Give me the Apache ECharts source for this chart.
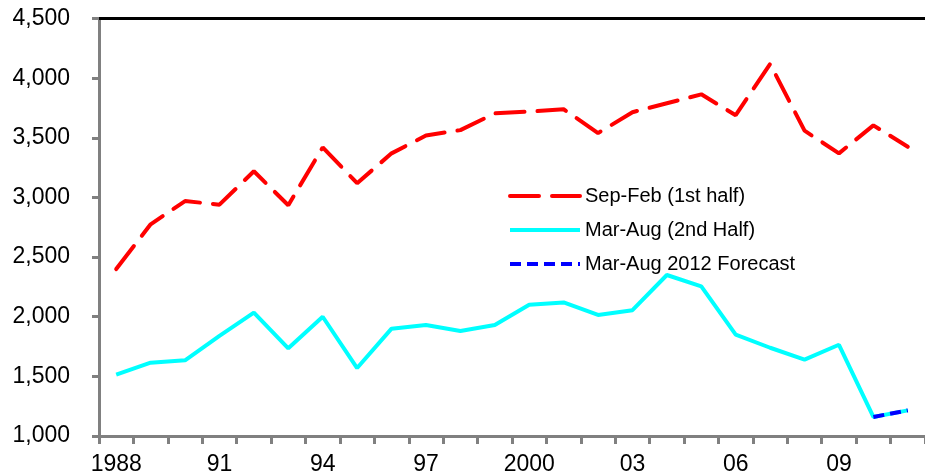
<!DOCTYPE html>
<html>
<head>
<meta charset="utf-8">
<script src="https://cdn.jsdelivr.net/npm/echarts@6/dist/echarts.min.js"></script>
<style>
  html, body { margin: 0; padding: 0; background: #fff; }
  #chart { width: 925px; height: 476px; }
</style>
</head>
<body>
<div id="chart"></div>
<script>
// Season years (Excel-style short labels after the first and at 2000)
const years = ['1988', '89', '90', '91', '92', '93', '94', '95', '96', '97', '98', '99',
               '2000', '01', '02', '03', '04', '05', '06', '07', '08', '09', '10', '11'];

// Sep-Feb (1st half)
const firstHalf = [2400, 2775, 2970, 2940, 3220, 2935, 3420, 3120, 3370, 3520, 3565, 3705,
                   3720, 3740, 3540, 3715, 3790, 3865, 3690, 4120, 3560, 3370, 3605, 3425];

// Mar-Aug (2nd Half)
const secondHalf = [1515, 1615, 1635, 1840, 2035, 1735, 2000, 1570, 1900, 1930, 1880, 1930,
                    2100, 2120, 2015, 2055, 2350, 2255, 1850, 1740, 1640, 1765, 1160, 1215];

// Mar-Aug 2012 forecast segment
const forecast = [null, null, null, null, null, null, null, null, null, null, null, null,
                  null, null, null, null, null, null, null, null, null, null, 1160, 1215];

const seriesNames = ['Sep-Feb (1st half)', 'Mar-Aug (2nd Half)', 'Mar-Aug 2012 Forecast'];

const FONT = "'Liberation Sans', Arial, sans-serif";

const chart = echarts.init(document.getElementById('chart'), null, { renderer: 'canvas' });

chart.setOption({
  animation: false,
  backgroundColor: '#ffffff',
  textStyle: { fontFamily: FONT, color: '#000' },
  grid: { left: 99, top: 18.6, width: 828, bottom: 39.3, containLabel: false },
  legend: {
    data: seriesNames,
    orient: 'vertical',
    left: 508,
    top: 186,
    padding: 0,
    itemWidth: 70,
    itemHeight: 20,
    itemGap: 14,
    // line-only legend keys: hide the marker, keep the series stroke
    itemStyle: { opacity: 0 },
    lineStyle: { width: 4 },
    textStyle: { fontSize: 20, color: '#000', fontFamily: FONT }
  },
  xAxis: [
    {
      type: 'category',
      data: years,
      boundaryGap: true,
      axisLine: { lineStyle: { color: '#808080', width: 3 } },
      axisTick: { show: true, interval: 0, length: 8, lineStyle: { color: '#808080', width: 3 } },
      axisLabel: { interval: 2, margin: 17, fontSize: 23, color: '#000', fontFamily: FONT },
      splitLine: { show: false }
    },
    {
      type: 'category',
      data: years,
      position: 'top',
      axisLine: { lineStyle: { color: '#000', width: 3 } },
      axisTick: { show: false },
      axisLabel: { show: false },
      splitLine: { show: false }
    }
  ],
  yAxis: {
    type: 'value',
    min: 1000,
    max: 4500,
    interval: 500,
    axisLine: { show: true, lineStyle: { color: '#808080', width: 3 } },
    axisTick: { show: true, length: 7, lineStyle: { color: '#808080', width: 3 } },
    axisLabel: {
      margin: 29,
      fontSize: 23,
      color: '#000',
      fontFamily: FONT,
      formatter: v => v.toLocaleString('en-US')
    },
    splitLine: { show: false }
  },
  series: [
    {
      name: seriesNames[0],
      type: 'line',
      data: firstHalf,
      symbol: 'none',
      lineStyle: { color: '#ff0000', width: 4, type: [29, 13], cap: 'round' },
      itemStyle: { color: '#ff0000' }
    },
    {
      name: seriesNames[1],
      type: 'line',
      data: secondHalf,
      symbol: 'none',
      lineStyle: { color: '#00ffff', width: 4 },
      itemStyle: { color: '#00ffff' }
    },
    {
      name: seriesNames[2],
      type: 'line',
      data: forecast,
      symbol: 'none',
      connectNulls: false,
      lineStyle: { color: '#0000ff', width: 4, type: [11, 6] },
      itemStyle: { color: '#0000ff' }
    }
  ]
});
</script>
</body>
</html>
